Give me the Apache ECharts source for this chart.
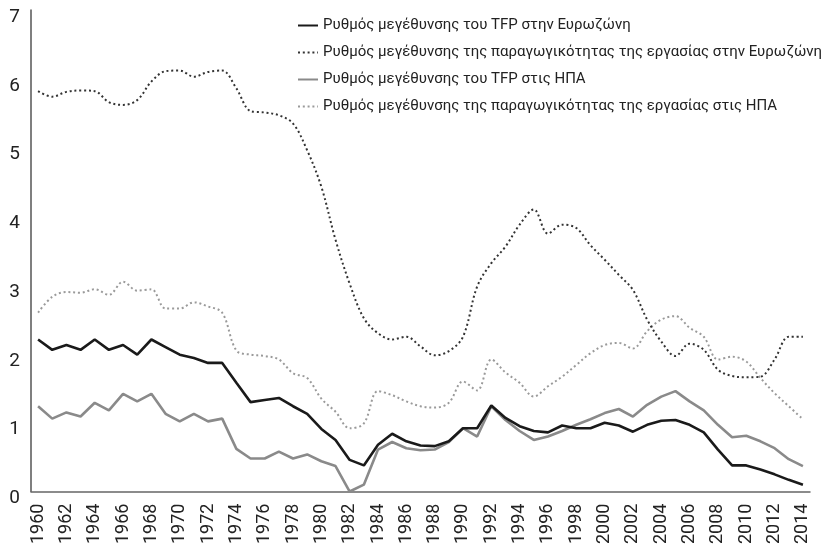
<!DOCTYPE html>
<html><head><meta charset="utf-8">
<script src="https://cdn.jsdelivr.net/npm/echarts@6/dist/echarts.min.js"></script>
<style>html,body{margin:0;padding:0;background:#fff}#c{width:839px;height:547px}</style>
</head><body><div id="c"></div>
<script>
const years = [];
for (let y = 1960; y <= 2014; y++) years.push(String(y));

const ezTFP = [2.21,2.06,2.13,2.06,2.21,2.06,2.13,1.99,2.21,2.10,1.99,1.94,1.87,1.87,1.58,1.30,1.33,1.36,1.24,1.13,0.91,0.75,0.46,0.38,0.68,0.84,0.73,0.67,0.66,0.73,0.92,0.92,1.25,1.07,0.95,0.88,0.86,0.96,0.92,0.92,1.00,0.96,0.87,0.97,1.03,1.04,0.97,0.86,0.61,0.38,0.38,0.32,0.25,0.17,0.10];
const ezLP = [5.82,5.74,5.81,5.83,5.82,5.66,5.62,5.69,5.96,6.11,6.12,6.03,6.10,6.12,5.86,5.53,5.51,5.47,5.35,4.96,4.43,3.66,3.02,2.52,2.30,2.21,2.25,2.11,1.98,2.04,2.25,2.98,3.32,3.56,3.88,4.10,3.75,3.88,3.83,3.58,3.37,3.15,2.93,2.50,2.18,1.97,2.15,2.06,1.77,1.68,1.66,1.67,1.92,2.25,2.25];
const usTFP = [1.24,1.06,1.15,1.09,1.29,1.18,1.42,1.31,1.42,1.13,1.02,1.13,1.02,1.06,0.62,0.48,0.48,0.58,0.48,0.54,0.44,0.37,0.00,0.10,0.61,0.72,0.63,0.60,0.61,0.72,0.92,0.80,1.24,1.04,0.88,0.75,0.80,0.88,0.97,1.05,1.14,1.20,1.09,1.26,1.38,1.46,1.31,1.18,0.97,0.79,0.81,0.73,0.63,0.47,0.37];
const usLP = [2.60,2.83,2.90,2.89,2.94,2.86,3.05,2.92,2.94,2.66,2.66,2.75,2.69,2.60,2.05,1.99,1.97,1.92,1.72,1.65,1.35,1.16,0.92,0.99,1.46,1.40,1.31,1.24,1.22,1.29,1.60,1.47,1.92,1.73,1.58,1.38,1.53,1.67,1.84,2.01,2.13,2.16,2.08,2.33,2.50,2.55,2.38,2.25,1.92,1.96,1.89,1.65,1.43,1.24,1.05];

const names = [
  'Ρυθμός μεγέθυνσης του TFP στην Ευρωζώνη',
  'Ρυθμός μεγέθυνσης της παραγωγικότητας της εργασίας στην Ευρωζώνη',
  'Ρυθμός μεγέθυνσης του TFP στις ΗΠΑ',
  'Ρυθμός μεγέθυνσης της παραγωγικότητας της εργασίας στις ΗΠΑ'
];

const font = "Roboto,'Liberation Sans',sans-serif";
const chart = echarts.init(document.getElementById('c'), null, {renderer: 'canvas'});
chart.setOption({
  animation: false,
  backgroundColor: '#fff',
  grid: {left: 31, top: 10, width: 779, bottom: 55},
  legend: {
    orient: 'vertical', left: 292, top: 13, itemGap: 12, itemWidth: 20, itemHeight: 10,
    data: names,
    itemStyle: {opacity: 0},
    textStyle: {fontFamily: font, fontSize: 15, color: '#222'}
  },
  xAxis: {
    type: 'category', data: years, boundaryGap: true,
    axisLine: {lineStyle: {color: '#666', width: 1.5}},
    axisTick: {interval: 1, length: 6, lineStyle: {color: '#555', width: 1.2}},
    axisLabel: {interval: 1, rotate: 90, margin: 12, fontFamily: font, fontSize: 18, color: '#222'}
  },
  yAxis: {
    type: 'value', min: 0, max: 7, interval: 1,
    splitLine: {show: false},
    axisTick: {show: false},
    axisLine: {show: true, lineStyle: {color: '#555', width: 1.5}},
    axisLabel: {margin: 11, verticalAlign: 'top', lineHeight: 14, fontFamily: font, fontSize: 19, color: '#222'}
  },
  series: [
    {name: names[3], type: 'line', data: usLP, symbol: 'none', smooth: 0.35, z: 1, color: '#9a9a9a',
     lineStyle: {color: '#9a9a9a', width: 2, type: [2, 2.8]}},
    {name: names[2], type: 'line', data: usTFP, symbol: 'none', z: 2, color: '#8a8a8a',
     lineStyle: {color: '#8a8a8a', width: 2.6}},
    {name: names[1], type: 'line', data: ezLP, symbol: 'none', smooth: 0.35, z: 3, color: '#333',
     lineStyle: {color: '#333', width: 2, type: [2, 2.8]}},
    {name: names[0], type: 'line', data: ezTFP, symbol: 'none', z: 4, color: '#1a1a1a',
     lineStyle: {color: '#1a1a1a', width: 2.6}}
  ]
});
</script></body></html>
